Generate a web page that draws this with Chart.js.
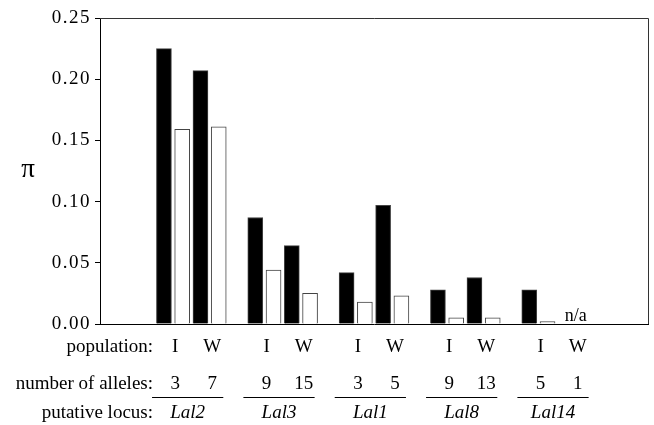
<!DOCTYPE html>
<html>
<head>
<meta charset="utf-8">
<script src="https://cdn.jsdelivr.net/npm/chart.js@4"></script>
<style>
  html, body { margin: 0; padding: 0; background: #fff; }
  canvas { display: block; }
</style>
</head>
<body>
<canvas id="piChart" width="654" height="425"></canvas>
<script>
// ----------------------------- Data ----------------------------------------
const loci = ["Lal2", "Lal3", "Lal1", "Lal8", "Lal14"];
const populations = ["I", "W"];
const allelesI = [3, 9, 3, 9, 5];
const allelesW = [7, 15, 5, 13, 1];
// black bars / white bars, per population
const blackI = [0.225, 0.087, 0.042, 0.028, 0.028];
const whiteI = [0.159, 0.044, 0.018, 0.005, 0.002];
const blackW = [0.207, 0.064, 0.097, 0.038, null];
const whiteW = [0.161, 0.025, 0.023, 0.005, null];
const yTicks = [0, 0.05, 0.10, 0.15, 0.20, 0.25];

// ----------------------------- Layout helpers ------------------------------
// each locus takes 5 slots: I-black, I-white, W-black, W-white, gap
const SLOTS = 30;
const slotBase = (i) => 3 + 5 * i;

const blackPoints = [];
const whitePoints = [];
loci.forEach((_, i) => {
    const b = slotBase(i);
    blackPoints.push({ x: b + 0.5, y: blackI[i] });
    whitePoints.push({ x: b + 1.5, y: whiteI[i] });
    if (blackW[i] !== null) blackPoints.push({ x: b + 2.5, y: blackW[i] });
    if (whiteW[i] !== null) whitePoints.push({ x: b + 3.5, y: whiteW[i] });
});

const SERIF = "'Liberation Serif', 'Times New Roman', serif";

// ----------------------------- Annotation plugin ---------------------------
const annotations = {
    id: "annotations",
    beforeDraw(chart) {
        chart.ctx.letterSpacing = "1.5px";
    },
    beforeDatasetsDraw(chart) {
        chart.ctx.letterSpacing = "0px";
    },
    afterDraw(chart) {
        const { ctx, chartArea: a } = chart;
        const xs = chart.scales.x;
        ctx.save();
        ctx.letterSpacing = "0px";

        // frame top / right (grey) and bottom axis (black)
        ctx.strokeStyle = "#333";
        ctx.lineWidth = 1;
        ctx.beginPath();
        ctx.moveTo(a.left, a.top + 0.5);
        ctx.lineTo(a.right + 0.5, a.top + 0.5);
        ctx.lineTo(a.right + 0.5, a.bottom);
        ctx.stroke();
        ctx.strokeStyle = "#000";
        ctx.beginPath();
        ctx.moveTo(a.left, a.bottom + 0.5);
        ctx.lineTo(a.right + 1, a.bottom + 0.5);
        ctx.stroke();

        // pi title
        ctx.fillStyle = "#000";
        ctx.font = `27px ${SERIF}`;
        ctx.textAlign = "center";
        ctx.textBaseline = "middle";
        ctx.fillText("π", 28, 170);

        // n/a
        ctx.font = `18px ${SERIF}`;
        ctx.textBaseline = "alphabetic";
        ctx.fillText("n/a", xs.getPixelForValue(slotBase(4) + 3.05), 321);

        // row labels
        const rowPop = 347, rowAll = 384, rowLine = 397, rowLoc = 413;
        ctx.font = `19px ${SERIF}`;
        ctx.textBaseline = "middle";
        ctx.textAlign = "right";
        ctx.fillText("population:", 153, rowPop);
        ctx.fillText("number of alleles:", 153, rowAll);
        ctx.fillText("putative locus:", 153, rowLoc);

        ctx.textAlign = "center";
        loci.forEach((name, i) => {
            const b = slotBase(i);
            const xI = xs.getPixelForValue(b + 1.12);
            const xW = xs.getPixelForValue(b + 3.15);
            ctx.font = `19px ${SERIF}`;
            ctx.fillText(populations[0], xI, rowPop);
            ctx.fillText(populations[1], xW, rowPop);
            ctx.fillText(String(allelesI[i]), xI, rowAll);
            ctx.fillText(String(allelesW[i]), xW, rowAll);

            ctx.beginPath();
            ctx.strokeStyle = "#000";
            ctx.moveTo(xs.getPixelForValue(b - 0.15), rowLine + 0.5);
            ctx.lineTo(xs.getPixelForValue(b + 3.75), rowLine + 0.5);
            ctx.stroke();

            ctx.font = `italic 19px ${SERIF}`;
            ctx.fillText(name, xs.getPixelForValue(b + 1.8), rowLoc);
        });
        ctx.restore();
    },
};

// ----------------------------- Chart ---------------------------------------
const barStyle = {
    barThickness: 15,
    grouped: false,
    borderWidth: 1,
};

new Chart(document.getElementById("piChart"), {
    type: "bar",
    data: {
        datasets: [
            { ...barStyle, label: "black", data: blackPoints, backgroundColor: "#000", borderColor: "#444" },
            { ...barStyle, label: "white", data: whitePoints, backgroundColor: "#fff", borderColor: "#444" },
        ],
    },
    plugins: [annotations],
    options: {
        responsive: false,
        devicePixelRatio: 1,
        animation: false,
        layout: { padding: { top: 18, right: 6, bottom: 101, left: 0 } },
        plugins: { legend: { display: false }, tooltip: { enabled: false } },
        scales: {
            x: { type: "linear", min: 0, max: SLOTS, offset: false, display: false },
            y: {
                min: 0,
                max: 0.25,
                afterFit: (s) => { s.width = 100; },
                afterBuildTicks: (s) => { s.ticks = yTicks.map((v) => ({ value: v })); },
                ticks: {
                    color: "#000",
                    font: { family: SERIF, size: 19 },
                    padding: 4,
                    callback: (v) => v.toFixed(2),
                },
                grid: { drawOnChartArea: false, drawTicks: true, tickLength: 5, color: "#000" },
                border: { display: true, color: "#000", width: 1 },
            },
        },
    },
});
</script>
</body>
</html>
